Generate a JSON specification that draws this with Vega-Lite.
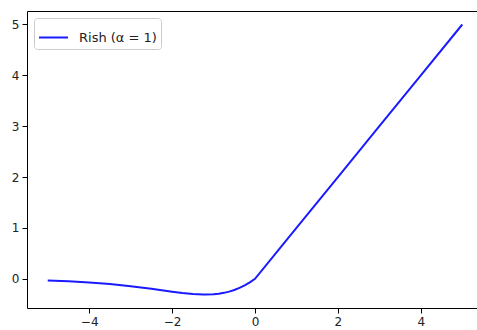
{
  "$schema": "https://vega.github.io/schema/vega-lite/v6.json",
  "autosize": "none",
  "width": 456,
  "height": 297,
  "padding": {"left": 27, "top": 11, "right": 0, "bottom": 22},
  "config": {
    "view": {"stroke": "#000", "strokeWidth": 1},
    "font": "DejaVu Sans",
    "axis": {"grid": false, "domain": false, "tickColor": "#000", "tickSize": 5, "labelFontSize": 12, "labelColor": "#222", "labelPadding": 3, "labelFont": "DejaVu Sans"}
  },
  "data": {
    "values": [
      {"x": -5, "y": -0.0336, "s": "Rish (α = 1)"},
      {"x": -4.5, "y": -0.0497, "s": "Rish (α = 1)"},
      {"x": -4, "y": -0.0726, "s": "Rish (α = 1)"},
      {"x": -3.5, "y": -0.1041, "s": "Rish (α = 1)"},
      {"x": -3, "y": -0.1457, "s": "Rish (α = 1)"},
      {"x": -2.75, "y": -0.1702, "s": "Rish (α = 1)"},
      {"x": -2.5, "y": -0.1968, "s": "Rish (α = 1)"},
      {"x": -2.25, "y": -0.2247, "s": "Rish (α = 1)"},
      {"x": -2, "y": -0.2525, "s": "Rish (α = 1)"},
      {"x": -1.75, "y": -0.278, "s": "Rish (α = 1)"},
      {"x": -1.5, "y": -0.2981, "s": "Rish (α = 1)"},
      {"x": -1.25, "y": -0.3084, "s": "Rish (α = 1)"},
      {"x": -1.2, "y": -0.3088, "s": "Rish (α = 1)"},
      {"x": -1, "y": -0.3034, "s": "Rish (α = 1)"},
      {"x": -0.875, "y": -0.2931, "s": "Rish (α = 1)"},
      {"x": -0.75, "y": -0.2765, "s": "Rish (α = 1)"},
      {"x": -0.625, "y": -0.2527, "s": "Rish (α = 1)"},
      {"x": -0.5, "y": -0.2207, "s": "Rish (α = 1)"},
      {"x": -0.375, "y": -0.18, "s": "Rish (α = 1)"},
      {"x": -0.25, "y": -0.1299, "s": "Rish (α = 1)"},
      {"x": -0.125, "y": -0.07, "s": "Rish (α = 1)"},
      {"x": 0, "y": 0, "s": "Rish (α = 1)"},
      {"x": 1, "y": 1, "s": "Rish (α = 1)"},
      {"x": 2, "y": 2, "s": "Rish (α = 1)"},
      {"x": 3, "y": 3, "s": "Rish (α = 1)"},
      {"x": 4, "y": 4, "s": "Rish (α = 1)"},
      {"x": 5, "y": 5, "s": "Rish (α = 1)"}
    ]
  },
  "mark": {"type": "line", "strokeWidth": 2, "clip": true},
  "encoding": {
    "x": {"field": "x", "type": "quantitative", "scale": {"domain": [-5.5, 5.5], "nice": false, "zero": false}, "axis": {"values": [-4, -2, 0, 2, 4], "title": null}},
    "y": {"field": "y", "type": "quantitative", "scale": {"domain": [-0.5742, 5.2654], "nice": false, "zero": false}, "axis": {"values": [0, 1, 2, 3, 4, 5], "title": null}},
    "color": {"field": "s", "type": "nominal", "scale": {"domain": ["Rish (α = 1)"], "range": ["#1a1aff"]},
      "legend": {"title": null, "orient": "top-left", "offset": 7, "padding": 4, "strokeColor": "#ccc", "fillColor": "white", "cornerRadius": 3, "symbolType": "stroke", "symbolSize": 841, "symbolStrokeWidth": 2, "labelFontSize": 13, "labelOffset": 10, "labelColor": "#222", "labelFont": "DejaVu Sans"}}
  }
}
